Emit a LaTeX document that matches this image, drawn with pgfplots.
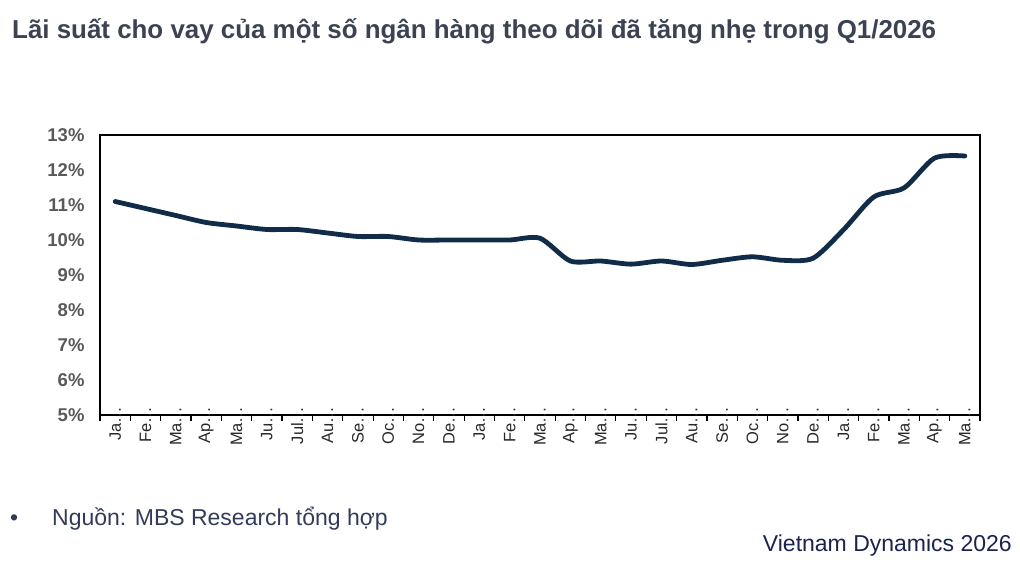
\documentclass[border=0pt]{standalone}
\usepackage{fontspec}
\setmainfont{Liberation Sans}
\usepackage{pgfplots}
\pgfplotsset{compat=1.18}
\definecolor{linec}{RGB}{16,44,72}
\definecolor{titlec}{RGB}{59,66,82}
\definecolor{ytc}{RGB}{89,89,89}
\definecolor{xtc}{RGB}{40,40,40}
\definecolor{srcc}{RGB}{50,60,90}
\definecolor{brandc}{RGB}{25,35,80}
\begin{document}
\begin{tikzpicture}[x=1pt,y=1pt]
\path[use as bounding box] (0,0) rectangle (1020,567);
\node[anchor=base west, inner sep=0, text=titlec, font=\fontsize{25.9}{28}\selectfont\bfseries] at (12,528) {Lãi suất cho vay của một số ngân hàng theo dõi đã tăng nhẹ trong Q1/2026};
\begin{axis}[
  at={(100pt,152pt)}, anchor=south west, scale only axis,
  width=880pt, height=280pt,
  xmin=-0.5, xmax=28.5, ymin=5, ymax=13,
  axis line style={line width=1.2pt, black},
  ytick={5,6,7,8,9,10,11,12,13},
  yticklabels={5\%,6\%,7\%,8\%,9\%,10\%,11\%,12\%,13\%},
  yticklabel style={font=\fontsize{18.5}{19}\selectfont\bfseries, text=ytc, xshift=-12pt},
  xtick={0,...,28},
  xticklabels={Ja…,Fe…,Ma…,Ap…,Ma…,Ju…,Jul…,Au…,Se…,Oc…,No…,De…,Ja…,Fe…,Ma…,Ap…,Ma…,Ju…,Jul…,Au…,Se…,Oc…,No…,De…,Ja…,Fe…,Ma…,Ap…,Ma…},
  xticklabel style={rotate=90, anchor=east, font=\fontsize{16.5}{17}\selectfont, text=xtc, xshift=12pt},
  major tick length=0pt,
  minor xtick={-0.5,0.5,...,28.5},
  minor tick length=6pt,
  tick align=outside,
  xtick pos=bottom, ytick pos=left,
  minor tick style={line width=1.2pt, black},
  clip=false,
]
\addplot[linec, line width=4.8pt, smooth, tension=0.45, line cap=round] coordinates {
(0,11.1) (1,10.9) (2,10.7) (3,10.5) (4,10.4) (5,10.3) (6,10.3) (7,10.2) (8,10.1) (9,10.1)
(10,10.0) (11,10.0) (12,10.0) (13,10.0) (14,10.05) (15,9.4) (16,9.4) (17,9.31) (18,9.4) (19,9.3)
(20,9.42) (21,9.52) (22,9.42) (23,9.48) (24,10.29) (25,11.23) (26,11.49) (27,12.34) (28,12.4)
};
\end{axis}
\node[anchor=base west, inner sep=0, text=srcc, font=\fontsize{23}{26}\selectfont] at (10,41) {•};
\node[anchor=base west, inner sep=0, text=srcc, font=\fontsize{23}{26}\selectfont] at (52,41) {Nguồn: MBS Research tổng hợp};
\node[anchor=base east, inner sep=0, text=brandc, font=\fontsize{23}{26}\selectfont] at (1012,15) {Vietnam Dynamics 2026};
\end{tikzpicture}
\end{document}
